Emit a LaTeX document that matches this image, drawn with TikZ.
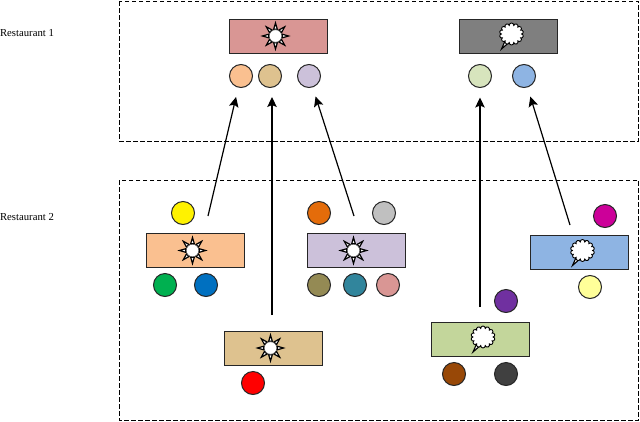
\documentclass[tikz,border=0pt]{standalone}
\usepackage{fontspec}
\setmainfont{Liberation Serif}
\usetikzlibrary{shapes.symbols, arrows.meta}

\definecolor{tablered}{HTML}{D99694}
\definecolor{tablegray}{HTML}{7F7F7F}
\definecolor{tableorange}{HTML}{FAC090}
\definecolor{tabletan}{HTML}{DEC28F}
\definecolor{tablepurple}{HTML}{CCC1DA}
\definecolor{tablegreen}{HTML}{C3D69B}
\definecolor{tableblue}{HTML}{8EB4E3}

\tikzset{
  region/.style={draw, line width=0.9pt, dash pattern=on 4.5pt off 2.5pt},
  rowname/.style={font=\fontsize{10.7}{12}\selectfont},
  tablebox/.style={draw=black!85, line width=1pt, minimum width=98pt, minimum height=34pt, inner sep=0pt, outer sep=0pt},
  guest/.style={draw=black!85, line width=1pt, circle, minimum size=23pt, inner sep=0pt, outer sep=0pt},
  flow/.style={-{Stealth[length=10pt, width=9.5pt, inset=2pt]}, line width=1.2pt, shorten >=10pt},
  sunmark/.pic={
    \foreach \a in {0,45,...,315}
      \draw[fill=white, line width=1.2pt, line join=miter] (\a-15:7) -- (\a:13) -- (\a+15:7) -- cycle;
    \draw[fill=white, draw=black!70, line width=0.6pt] (0,0) circle (6.3);
  },
  thoughtmark/.pic={
    \draw[fill=white, line width=1.1pt] (-6,6) -- (-10,15) -- (-2,8) -- cycle;
    \node (-body) [cloud, draw, fill=white, line width=0.9pt, cloud puffs=14, cloud puff arc=190,
      minimum width=24pt, minimum height=22pt, inner sep=0pt] at (0,0) {};
  }
}

\begin{document}
\begin{tikzpicture}[>=latex, x=1pt, y=-1pt]
\useasboundingbox (0,0) rectangle (640,421);

% --- Restaurant regions ---
\draw[region] (119,1) rectangle (638.5,141);
\draw[region] (119,180) rectangle (638.5,420);
\node[rowname] (nameA) at (27,33) {Restaurant 1};
\node[rowname] (nameB) at (27,217) {Restaurant 2};

% --- Restaurant 1 tables ---
\node[tablebox, fill=tablered] (tableA) at (278.5,36) {};
\node[tablebox, fill=tablegray] (tableB) at (508.5,36) {};
\pic at ([xshift=-3pt]tableA.center) {sunmark};
\pic (cloudB) at ([xshift=3pt, yshift=2pt]tableB.center) {thoughtmark};

% --- Restaurant 1 guests ---
\node[guest, fill=tableorange] (guestA) at (241,76) {};
\node[guest, fill=tabletan] (guestB) at (270,76) {};
\node[guest, fill=tablepurple] (guestC) at (309,76) {};
\node[guest, fill={rgb,255:red,215;green,228;blue,189}] (guestD) at (480,76) {};
\node[guest, fill=tableblue] (guestE) at (524,76) {};

% --- Restaurant 2 tables ---
\node[tablebox, fill=tableorange] (tableC) at (195.5,250.5) {};
\node[tablebox, fill=tablepurple] (tableD) at (356.5,250.5) {};
\node[tablebox, fill=tabletan] (tableE) at (273.5,348) {};
\node[tablebox, fill=tablegreen] (tableF) at (480,339) {};
\node[tablebox, fill=tableblue] (tableG) at (579.5,252.5) {};
\pic at ([xshift=-3pt]tableC.center) {sunmark};
\pic at ([xshift=-3pt]tableD.center) {sunmark};
\pic at ([xshift=-3pt]tableE.center) {sunmark};
\pic (cloudF) at ([xshift=3pt, yshift=2pt]tableF.center) {thoughtmark};
\pic (cloudG) at ([xshift=3pt, yshift=2pt]tableG.center) {thoughtmark};

% --- Restaurant 2 guests ---
\node[guest, fill=yellow] (guestF) at (183,213) {};
\node[guest, fill={rgb,255:red,0;green,176;blue,80}] (guestG) at (165,285) {};
\node[guest, fill={rgb,255:red,0;green,112;blue,192}] (guestH) at (206,285) {};
\node[guest, fill={rgb,255:red,228;green,108;blue,10}] (guestI) at (319,213) {};
\node[guest, fill={rgb,255:red,192;green,192;blue,192}] (guestJ) at (384,213) {};
\node[guest, fill={rgb,255:red,148;green,138;blue,84}] (guestK) at (319,285) {};
\node[guest, fill={rgb,255:red,49;green,133;blue,156}] (guestL) at (355,285) {};
\node[guest, fill=tablered] (guestM) at (388,285) {};
\node[guest, fill=red] (guestN) at (253,383) {};
\node[guest, fill={rgb,255:red,112;green,48;blue,160}] (guestO) at (506,301) {};
\node[guest, fill={rgb,255:red,152;green,72;blue,7}] (guestP) at (454,374) {};
\node[guest, fill={rgb,255:red,64;green,64;blue,64}] (guestQ) at (506,374) {};
\node[guest, fill={rgb,255:red,204;green,0;blue,153}] (guestR) at (605,216) {};
\node[guest, fill={rgb,255:red,255;green,255;blue,153}] (guestS) at (590,287) {};

% --- Moves between restaurants ---
\coordinate (fromC) at (208,216);
\coordinate (fromD) at (354,216);
\coordinate (fromE) at (272,315);
\coordinate (fromF) at (480,307);
\coordinate (fromG) at (570,225);
\coordinate (intoB) at (272,97);
\draw[flow] (fromC) -- (guestA);
\draw[flow, shorten >=0pt] (fromE) -- (intoB);
\draw[flow] (fromD) -- (guestC);
\draw[flow] (fromF) -- (guestD);
\draw[flow] (fromG) -- (guestE);

\end{tikzpicture}
\end{document}
